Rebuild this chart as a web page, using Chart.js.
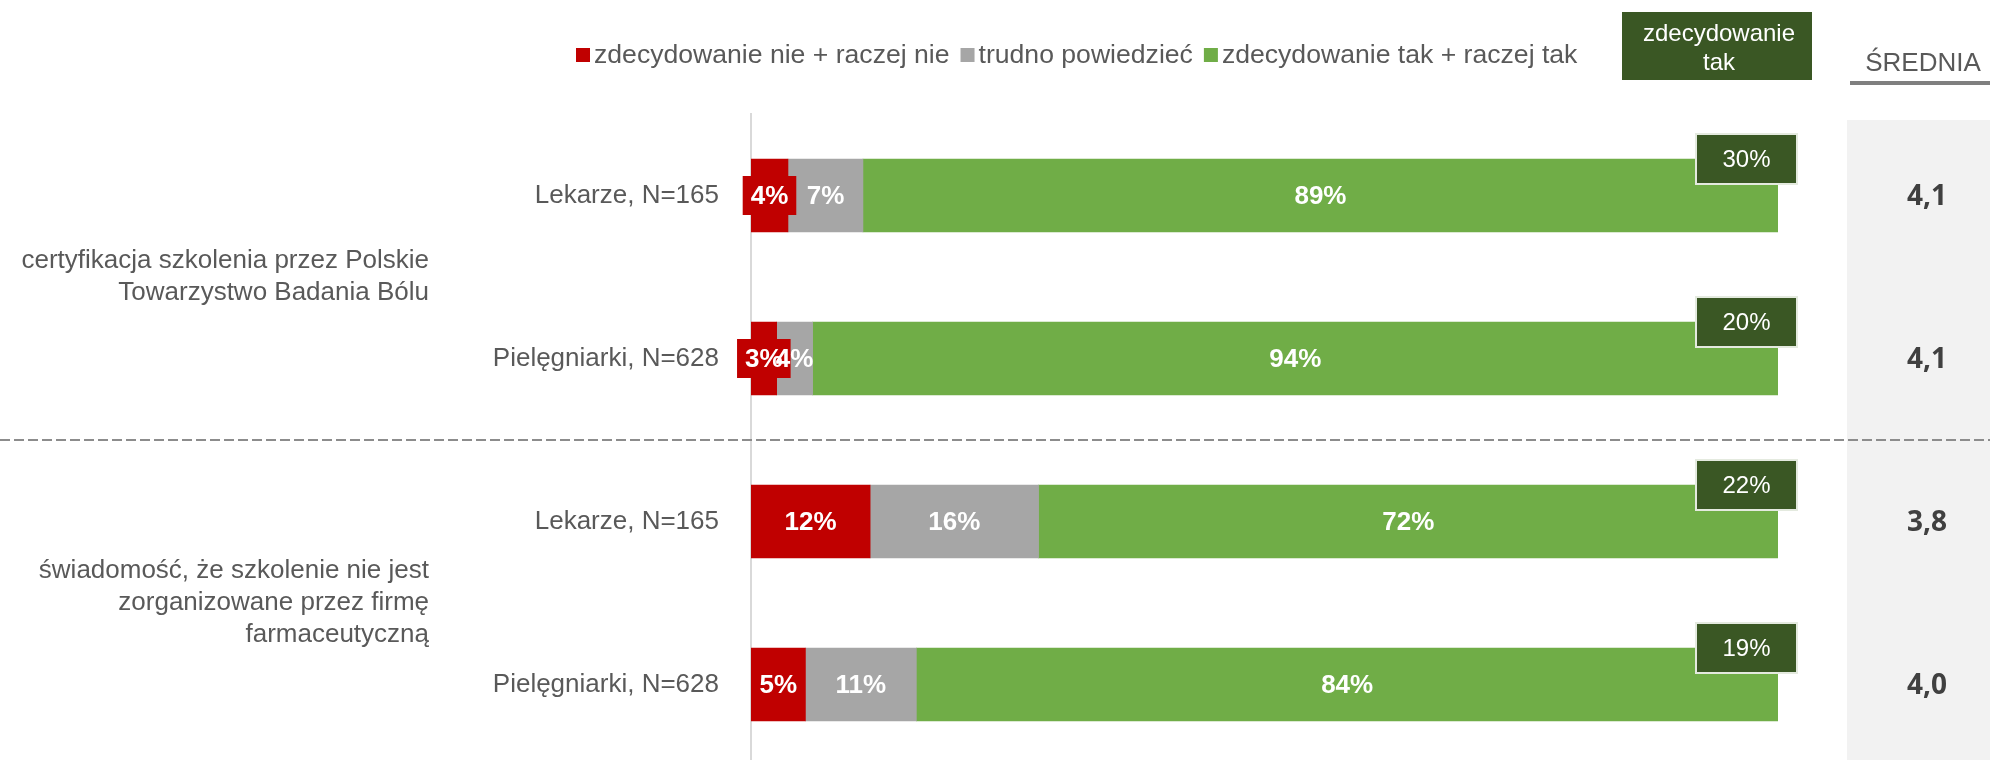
<!DOCTYPE html>
<html>
<head>
<meta charset="utf-8">
<script src="https://cdn.jsdelivr.net/npm/chart.js@4"></script>
<style>
  html, body { margin: 0; padding: 0; background: #fff; overflow: hidden; }
  #wrap { width: 1990px; height: 766px; position: relative; }
</style>
</head>
<body>
<div id="wrap"><canvas id="oceny"></canvas></div>
<script>
var kategorie = ['Lekarze, N=165', 'Pielęgniarki, N=628', 'Lekarze, N=165', 'Pielęgniarki, N=628'];
var grupy = [
  ['certyfikacja szkolenia przez Polskie', 'Towarzystwo Badania Bólu'],
  ['świadomość, że szkolenie nie jest', 'zorganizowane przez firmę', 'farmaceutyczną']
];

var nie = [3.6, 2.5, 11.6, 5.3];
var trudno = [7.3, 3.5, 16.4, 10.8];
var tak = [89.1, 94, 72, 83.9];
var zdecydowanieTak = [30, 20, 22, 19];
var srednia = [4.1, 4.1, 3.8, 4.0];

var font = 'Liberation Sans, Arial, sans-serif';

var dodatki = {
  id: 'dodatki',
  beforeDraw: function (chart) {
    var c = chart.ctx;
    c.save();
    c.fillStyle = '#f2f2f2';
    c.fillRect(1847, 120, 143, chart.height - 120);
    c.restore();
  },
  afterDatasetsDraw: function (chart) {
    var c = chart.ctx;
    var xs = chart.scales.x, ys = chart.scales.y;
    c.save();
    c.textAlign = 'center';
    c.textBaseline = 'middle';

    // etykiety na słupkach
    chart.data.datasets.forEach(function (ds, i) {
      var meta = chart.getDatasetMeta(i);
      meta.data.forEach(function (bar, j) {
        var p = bar.getProps(['x', 'y', 'base'], true);
        var cx = (p.x + p.base) / 2;
        var txt = Math.round(ds.data[j]) + '%';
        c.font = 'bold 26px ' + font;
        if (i === 0) {
          var w = c.measureText(txt).width;
          c.fillStyle = ds.backgroundColor;
          c.fillRect(cx - w / 2 - 8, p.y - 19.5, w + 16, 39);
        }
        c.fillStyle = '#ffffff';
        c.fillText(txt, cx, p.y + 1);
      });
    });

    // zdecydowanie tak
    var end = xs.getPixelForValue(100);
    var meta = chart.getDatasetMeta(2);
    meta.data.forEach(function (bar, j) {
      var top = bar.y - bar.height / 2;
      c.fillStyle = '#3a5724';
      c.fillRect(end - 82, top - 25, 101, 50);
      c.strokeStyle = '#e4eadf';
      c.lineWidth = 2;
      c.strokeRect(end - 82, top - 25, 101, 50);
      c.fillStyle = '#ffffff';
      c.font = '24px ' + font;
      c.fillText(zdecydowanieTak[j] + '%', end - 31.5, top + 1);
    });

    // srednia
    c.fillStyle = '#404040';
    c.font = 'bold 28px "Open Sans", sans-serif';
    srednia.forEach(function (v, j) {
      c.fillText(v.toFixed(1).replace('.', ','), 1927, ys.getPixelForValue(j) + 2);
    });

    // linia przerywana
    c.strokeStyle = '#8c8c8c';
    c.lineWidth = 2;
    c.setLineDash([10, 4]);
    var ly = Math.round(ys.getPixelForValue(1.5));
    c.beginPath();
    c.moveTo(0, ly);
    c.lineTo(chart.width, ly);
    c.stroke();
    c.setLineDash([]);

    // opisy grup
    c.fillStyle = '#595959';
    c.font = '26px ' + font;
    c.textAlign = 'right';
    grupy.forEach(function (linie, g) {
      var cy = ys.getPixelForValue(g * 2 + 0.5);
      var y0 = cy - (linie.length - 1) * 32 / 2;
      linie.forEach(function (t, k) {
        c.fillText(t, 429, y0 + k * 32);
      });
    });

    // legenda
    c.textAlign = 'left';
    c.font = '26.6px ' + font;
    var lx = 576;
    chart.data.datasets.forEach(function (ds) {
      c.fillStyle = ds.backgroundColor;
      c.fillRect(lx, 48, 14, 14);
      c.fillStyle = '#595959';
      c.fillText(ds.label, lx + 18, 56);
      lx += 18 + c.measureText(ds.label).width + 11;
    });

    // naglowki
    c.fillStyle = '#3a5724';
    c.fillRect(1622, 12, 190, 68);
    c.fillStyle = '#ffffff';
    c.font = '24px ' + font;
    c.textAlign = 'center';
    c.fillText('zdecydowanie', 1719, 34);
    c.fillText('tak', 1719, 63);

    c.fillStyle = '#595959';
    c.font = '26px ' + font;
    c.fillText('ŚREDNIA', 1923, 64);
    c.fillStyle = '#7f7f7f';
    c.fillRect(1850, 81, 140, 4);
    c.restore();
  }
};

var ctx = document.getElementById('oceny');
var wykres = new Chart(ctx, {
  type: 'bar',
  data: {
    labels: kategorie,
    datasets: [
      { label: 'zdecydowanie nie + raczej nie', data: nie, backgroundColor: '#c00000' },
      { label: 'trudno powiedzieć', data: trudno, backgroundColor: '#a6a6a6' },
      { label: 'zdecydowanie tak + raczej tak', data: tak, backgroundColor: '#70ad47' }
    ]
  },
  options: {
    indexAxis: 'y',
    responsive: true,
    maintainAspectRatio: false,
    animation: false,
    datasets: { bar: { barThickness: 73, borderWidth: 0 } },
    layout: { padding: { top: 114, right: 212, bottom: 0, left: 0 } },
    plugins: { legend: { display: false }, tooltip: { enabled: false } },
    scales: {
      x: { stacked: true, min: 0, max: 100, display: false },
      y: {
        stacked: true,
        grid: { display: false },
        border: { display: true, color: '#d9d9d9', width: 2 },
        ticks: { color: '#595959', padding: 24, font: { family: font, size: 26 } },
        afterFit: function (s) {
          s.width = 751;
          s.paddingTop = 0;
          s.paddingBottom = 0;
        }
      }
    }
  },
  plugins: [dodatki]
});
</script>
</body>
</html>
